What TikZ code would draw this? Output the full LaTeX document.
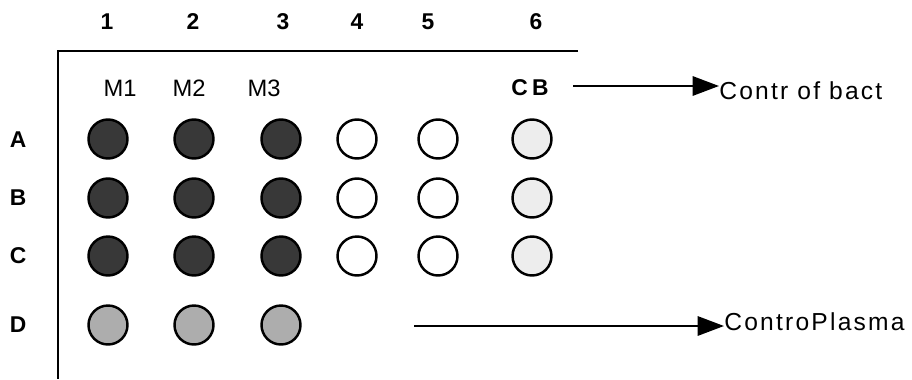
\documentclass[tikz,border=0pt]{standalone}
\usepackage{fontspec}
\setmainfont{Liberation Sans}
\usetikzlibrary{arrows.meta, positioning}

\tikzset{
	pozo/.style={circle, draw=black, line width=1.4pt, minimum size=0.78cm, inner sep=0pt},
	oscuro/.style={fill=black!78},
	claro/.style={fill=black!32},
	tenue/.style={fill=black!7},
	vacio/.style={fill=white},
	rotulo/.style={font=\fontsize{13}{15}\selectfont\bfseries},
	muestra/.style={font=\fontsize{13.5}{15}\selectfont},
	leyenda/.style={font=\fontsize{14}{16}\selectfont\addfontfeature{LetterSpace=9}, anchor=west, inner sep=0pt},
	flecha/.style={-{Triangle[length=15pt, width=11pt]}, line width=1.2pt},
}

\begin{document}
\begin{tikzpicture}[x=0.02cm, y=-0.02cm]
	\useasboundingbox (0,0) rectangle (912,379);

	% marco de la placa
	\coordinate (esq) at (58,51);
	\draw[line width=1.2pt] (578,51) -- (esq) -- (58,379);

	% numeros de columna
	\foreach \c/\x in {1/107, 2/193, 3/283, 4/357, 5/428, 6/536}{
		\node[rotulo] (col\c) at (\x,22) {\c};
	}
	% letras de fila
	\foreach \f/\y in {A/140, B/198, C/256, D/325}{
		\node[rotulo] (fila\f) at (18,\y) {\f};
	}

	% muestras
	\node[muestra] (m1) at (120,88) {M1};
	\node[muestra] (m2) at (189,88) {M2};
	\node[muestra] (m3) at (264,88) {M3};
	\node[font=\fontsize{13}{15}\selectfont\bfseries] (cb) at (530,88) {C\kern2.5pt B};

	% pocillos
	\foreach \f/\y in {A/139, B/198, C/256}{
		\foreach \c/\x/\tono in {1/108/oscuro, 2/194/oscuro, 3/281/oscuro,
				4/357/vacio, 5/438/vacio, 6/532/tenue}{
			\node[pozo, \tono] (p\f\c) at (\x,\y) {};
		}
	}
	\foreach \c/\x in {1/108, 2/194, 3/281}{
		\node[pozo, claro] (pD\c) at (\x,325) {};
	}

	% controles
	\node[leyenda] (bact) at (719,91) {Contr of bact};
	\coordinate (ini1) at (573,86);
	\draw[flecha] (ini1) -- (bact.west |- ini1);

	\coordinate (ini2) at (414,326);
	\node[leyenda] (plasma) at (724,322) {ControPlasma};
	\draw[flecha] (ini2) -- (plasma.west |- ini2);
\end{tikzpicture}
\end{document}
